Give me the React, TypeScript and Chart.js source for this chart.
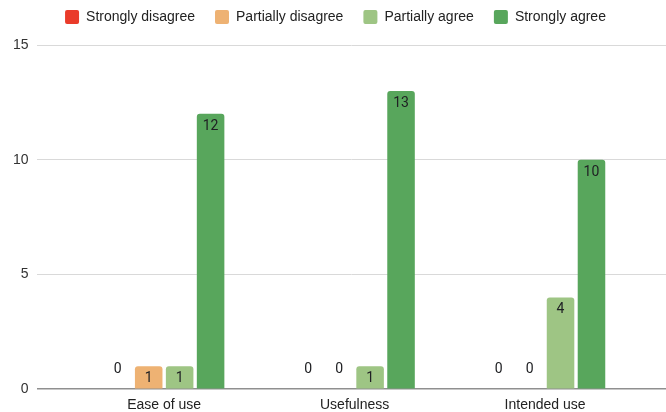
import React, { useEffect, useRef } from "react";
import { Chart, registerables } from "chart.js";

Chart.register(...registerables);

const categories = ["Ease of use", "Usefulness", "Intended use"];
const seriesNames = ["Strongly disagree", "Partially disagree", "Partially agree", "Strongly agree"];
const stronglyDisagree = [0, 0, 0];
const partiallyDisagree = [1, 0, 0];
const partiallyAgree = [1, 1, 4];
const stronglyAgree = [12, 13, 10];
const seriesColors = ["#EA3B2A", "#EEB273", "#9EC584", "#58A65C"];
const yTicks = [0, 5, 10, 15];
const xMin = -0.67;
const xMax = 2.635;

const FONT = "'Liberation Sans', Arial, sans-serif";

const legendFit = {
  id: "legendFit",
  beforeInit(chart: any) {
    const legend = chart.legend;
    if (!legend) return;
    const orig = legend.fit;
    legend.fit = function () {
      orig.call(this);
      this.height = 55;
    };
  },
};

const valueLabels = {
  id: "valueLabels",
  afterDatasetsDraw(chart: any) {
    const ctx = chart.ctx;
    ctx.save();
    ctx.font = "14px Roboto, 'Liberation Sans', sans-serif";
    ctx.fillStyle = "#202124";
    ctx.textAlign = "center";
    ctx.textBaseline = "middle";
    chart.data.datasets.forEach((ds: any, di: number) => {
      const meta = chart.getDatasetMeta(di);
      meta.data.forEach((el: any, i: number) => {
        const v = ds.data[i].y;
        const ty = v === 0 ? el.y - 20 : el.y + 12.5;
        ctx.fillText(String(v), el.x, ty);
      });
    });
    ctx.restore();
  },
};

export default function App() {
  const ref = useRef<HTMLCanvasElement | null>(null);
  useEffect(() => {
    if (!ref.current) return;
    const seriesValues = [stronglyDisagree, partiallyDisagree, partiallyAgree, stronglyAgree];
    const chart = new Chart(ref.current, {
      type: "bar",
      data: {
        datasets: seriesNames.map((name, si) => ({
          label: name,
          data: categories.map((_, i) => ({ x: i, y: seriesValues[si][i] })),
          backgroundColor: seriesColors[si],
          borderWidth: 0,
          borderRadius: 3,
          barPercentage: 0.89,
          categoryPercentage: 0.65,
        })),
      },
      options: {
        animation: false,
        responsive: true,
        maintainAspectRatio: false,
        layout: { padding: { top: -10, left: 5, right: 0, bottom: -10 } },
        plugins: {
          tooltip: { enabled: false },
          legend: {
            position: "top",
            align: "center",
            labels: {
              boxWidth: 14,
              boxHeight: 14,
              padding: 20,
              color: "#222",
              useBorderRadius: true,
              borderRadius: 2,
              font: { family: FONT, size: 14 },
            },
          },
        },
        scales: {
          x: {
            type: "linear",
            offset: false,
            bounds: "data",
            min: xMin,
            max: xMax,
            grid: { display: false, drawTicks: false },
            border: { display: false },
            afterBuildTicks: (scale: any) => {
              scale.ticks = categories.map((_, i) => ({ value: i }));
            },
            ticks: {
              padding: 8,
              color: "#222",
              font: { family: FONT, size: 14 },
              autoSkip: false,
              maxRotation: 0,
              callback: (v: any) => categories[Math.round(Number(v))] ?? "",
            },
          },
          y: {
            min: 0,
            max: 15,
            afterBuildTicks: (scale: any) => {
              scale.ticks = yTicks.map((v) => ({ value: v }));
            },
            border: { display: false },
            grid: {
              drawTicks: false,
              color: (c: any) => (c.tick && c.tick.value === 0 ? "#8f8f8f" : "#d9d9d9"),
              lineWidth: (c: any) => (c.tick && c.tick.value === 0 ? 1.6 : 1),
            },
            ticks: {
              padding: 8,
              color: "#333",
              font: { family: FONT, size: 14 },
            },
          },
        },
      },
      plugins: [legendFit, valueLabels],
    });
    return () => chart.destroy();
  }, []);
  return (
    <div style={{ position: "absolute", left: 0, top: 0, width: 666, height: 412, background: "#fff" }}>
      <canvas ref={ref} />
    </div>
  );
}
